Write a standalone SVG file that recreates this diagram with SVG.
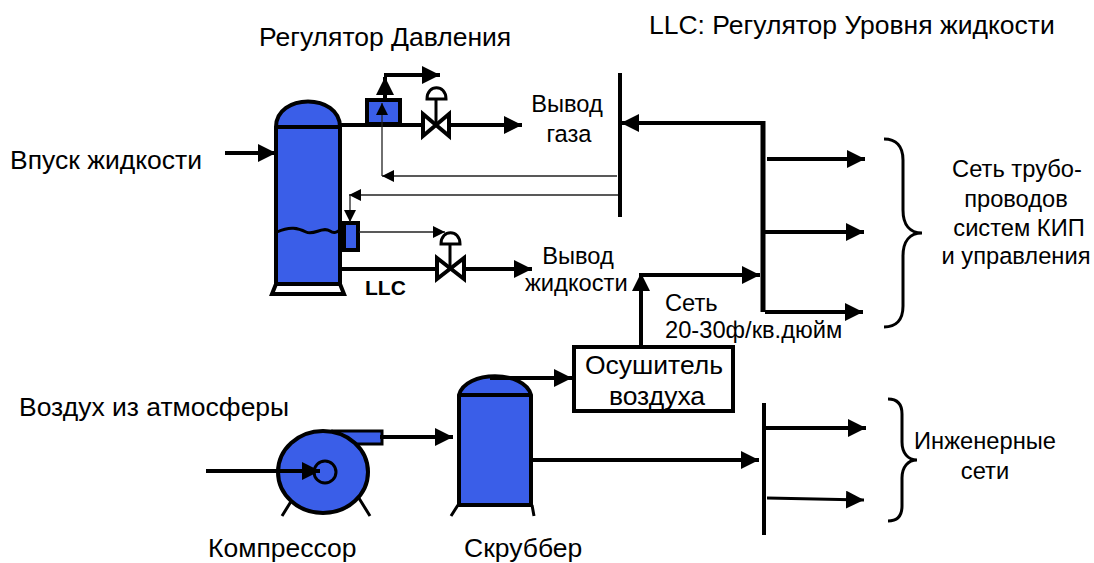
<svg xmlns="http://www.w3.org/2000/svg" width="1094" height="563" viewBox="0 0 1094 563">
<defs>
<marker id="big" markerUnits="userSpaceOnUse" markerWidth="20" markerHeight="20" refX="18" refY="9" orient="auto"><path d="M0 0L18 9L0 18Z" fill="#000"/></marker>
<marker id="thin" markerUnits="userSpaceOnUse" markerWidth="14" markerHeight="14" refX="12" refY="6" orient="auto"><path d="M0 0L12 6L0 12Z" fill="#000"/></marker>
</defs>
<style>
text{font-family:"Liberation Sans",Arial,sans-serif;fill:#000}
.l{font-size:26.5px}
.m{font-size:23.7px}
.c{text-anchor:middle}
.bold{font-size:21px;font-weight:bold}
.b{fill:#3a5ee8;stroke:#000;stroke-width:4}
.w{fill:#fff;stroke:#000;stroke-width:4}
.p{fill:none;stroke:#000;stroke-width:4}
.n{stroke-width:3}
.h{fill:none;stroke:#000;stroke-width:5}
.t{fill:none;stroke:#222;stroke-width:1.3}
.a{marker-end:url(#big)}
.at{marker-end:url(#thin)}
</style>
<rect width="1094" height="563" fill="#fff"/>
<g id="separator">
<path class="w" d="M276 284L272 294H344L340 284Z"/>
<path class="b" d="M276 127C276 93 340 93 340 127V284H276Z"/>
<path class="p" d="M276 127H340"/>
<path class="p n" d="M277 232C290 226 298 228 306 232C314 236 322 226 330 231C334 234 337 232 340 230"/>
</g>
<g id="pressure-regulator">
<rect class="b" x="367" y="100" width="33" height="24"/>
</g>
<g id="gas-valve">
<path class="w" d="M423 114L449 136V114L423 136Z"/>
<path class="p n" d="M436 125V100"/>
<path class="w n" d="M427 99C427 84 446 84 446 99Z"/>
</g>
<g id="level-controller">
<rect class="b" x="344" y="223" width="14" height="27"/>
</g>
<g id="liquid-valve">
<path class="w" d="M437 258L464 279V258L437 279Z"/>
<path class="p n" d="M450 268V245"/>
<path class="w n" d="M441 244C441 229 460 229 460 244Z"/>
</g>
<g id="dryer">
<rect class="w" x="574" y="347" width="159" height="64"/>
<text class="l c" x="654" y="374">Осушитель</text>
<text class="l c" x="657" y="405">воздуха</text>
</g>
<g id="compressor">
<path class="p n" d="M282 516L295 495M357 495L370 516"/>
<path class="b n" d="M335 431H382V444H350Z"/>
<ellipse class="b" cx="323" cy="472" rx="45" ry="41"/>
<circle class="b n" cx="325" cy="472" r="11"/>
</g>
<g id="scrubber">
<path class="p n" d="M458 505L451 516M532 505L534 516"/>
<path class="b" d="M459 395C465 370 525 370 531 395V505H459Z"/>
<path class="p" d="M459 395H531"/>
</g>
<g id="connectors">
<path class="p a" d="M225 153H276"/>
<path class="p" d="M340 125H423"/>
<path class="p a" d="M449 125H522"/>
<path class="p a" d="M385 100V77"/>
<path class="p a" d="M384 75H440"/>
<path class="t at" d="M382 176V103"/>
<path class="t at" d="M617 176H382"/>
<path class="t at" d="M619 195H349"/>
<path class="t at" d="M350 195V222"/>
<path class="t at" d="M359 232H445"/>
<path class="p" d="M340 269H437"/>
<path class="p a" d="M464 269H532"/>
<path class="p" d="M620 73V217"/>
<path class="p a" d="M763 123H621"/>
<path class="h" d="M763 121V312"/>
<path class="p a" d="M767 159H865"/>
<path class="p a" d="M765 232H864"/>
<path class="p a" d="M765 312H863"/>
<path class="p a" d="M641 345V273"/>
<path class="p a" d="M640 275H760"/>
<path class="p a" d="M490 378H572"/>
<path class="p a" d="M532 460H759"/>
<path class="p" d="M764 403V535"/>
<path class="p a" d="M766 428H866"/>
<path class="p n a" d="M767 498L864 500"/>
<path class="p a" d="M206 471H320"/>
<path class="p a" d="M380 437H453"/>
<path class="p n" d="M884 139C896 139 903 146 903 160V210C903 225 910 233 922 233C910 233 903 241 903 256V306C903 320 896 327 884 327"/>
<path class="p n" d="M888 399C897 399 902 404 902 414V442C902 453 908 460 917 460C908 460 902 467 902 478V506C902 516 897 521 888 521"/>
</g>
<g id="labels">
<text class="l" x="259" y="46">Регулятор Давления</text>
<text class="l" x="649" y="34">LLC: Регулятор Уровня жидкости</text>
<text class="l" x="10" y="169">Впуск жидкости</text>
<text class="l" x="19" y="416">Воздух из атмосферы</text>
<text class="l" x="208" y="557">Компрессор</text>
<text class="l" x="464" y="557">Скруббер</text>
<text class="m c" x="567" y="112">Вывод</text>
<text class="m c" x="569" y="142">газа</text>
<text class="m c" x="578" y="264">Вывод</text>
<text class="m" x="525" y="291">жидкости</text>
<text class="m" x="665" y="311">Сеть</text>
<text class="m" x="665" y="338">20-30ф/кв.дюйм</text>
<text class="m c" x="1017" y="177">Сеть трубо-</text>
<text class="m c" x="1016" y="207">проводов</text>
<text class="m c" x="1019" y="236">систем КИП</text>
<text class="m c" x="1016" y="264">и управления</text>
<text class="m c" x="985" y="449">Инженерные</text>
<text class="m c" x="985" y="479">сети</text>
<text class="bold" x="365" y="295">LLC</text>
</g>
</svg>
